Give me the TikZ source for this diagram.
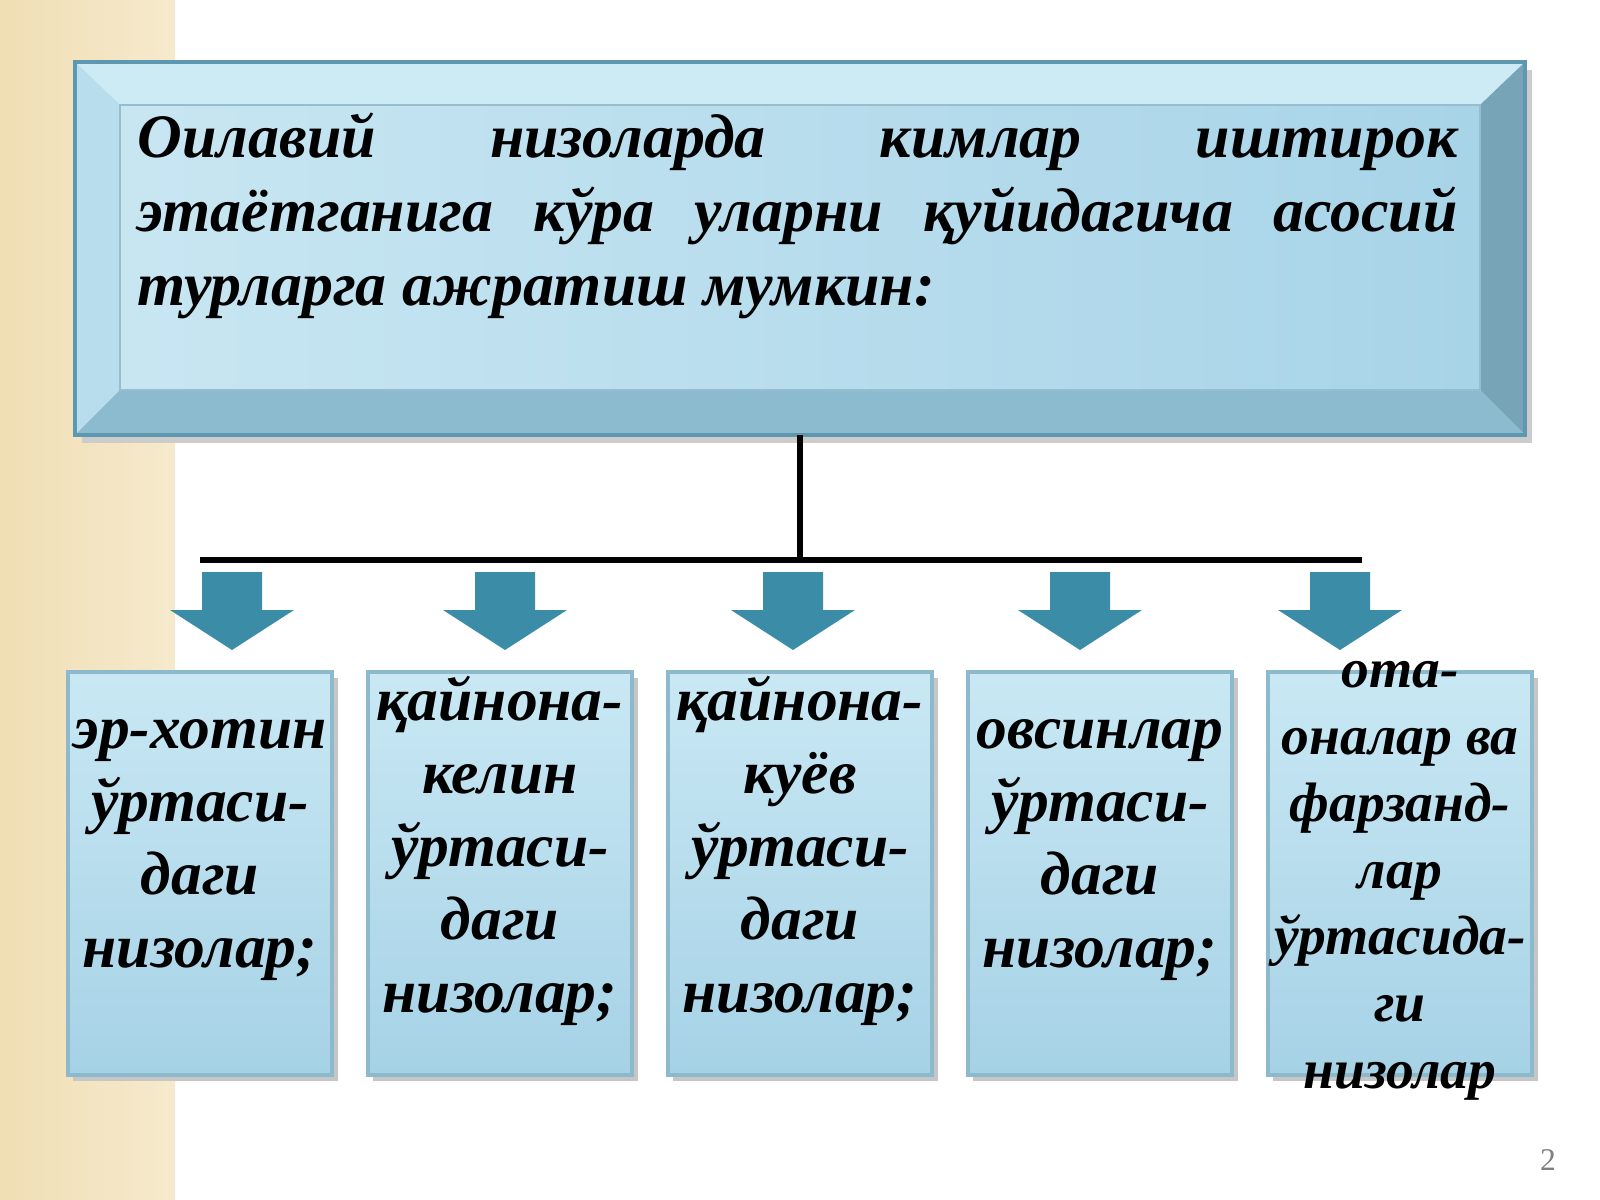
\documentclass[tikz,border=0pt]{standalone}
\usepackage{fontspec}
\setmainfont{Liberation Serif}
\begin{document}
\begin{tikzpicture}[x=0.1mm,y=-0.1mm,
  arr/.style={fill=arrowc,draw=none},
  box/.style={draw=boxb,line width=1.2pt,top color=boxt,bottom color=boxbtm},
  btxt/.style={align=center,font=\fontsize{17.5}{20.8}\selectfont\bfseries\itshape},
  ttl/.style={anchor=base west,inner sep=0pt,font=\fontsize{17.6}{21}\selectfont\bfseries\itshape},
]
\definecolor{arrowc}{HTML}{3B8CA6}
\definecolor{boxb}{HTML}{8DB9CC}
\definecolor{boxt}{HTML}{C9E8F4}
\definecolor{boxbtm}{HTML}{A6D2E6}
\definecolor{beigeL}{RGB}{240,222,180}
\definecolor{beigeR}{RGB}{246,234,205}
\definecolor{innL}{RGB}{200,230,242}
\definecolor{innR}{RGB}{168,212,232}
\definecolor{bvT}{RGB}{205,235,245}
\definecolor{bvL}{RGB}{184,222,238}
\definecolor{bvR}{RGB}{120,164,184}
\definecolor{bvB}{RGB}{140,186,206}
\definecolor{bvO}{RGB}{94,151,176}
\definecolor{bvI}{RGB}{150,190,208}
\useasboundingbox (0,0) rectangle (1600,1200);
\fill[white] (0,0) rectangle (1600,1200);
\fill[left color=beigeL,right color=beigeR] (0,0) rectangle (175,1200);
% top bevel box
\fill[gray!40] (82,70) rectangle (1532,443);
\coordinate (o1) at (75,62); \coordinate (o2) at (1525,62);
\coordinate (o3) at (1525,435); \coordinate (o4) at (75,435);
\coordinate (i1) at (120,105); \coordinate (i2) at (1480,105);
\coordinate (i3) at (1480,390); \coordinate (i4) at (120,390);
\fill[left color=innL,right color=innR] (i1) rectangle (i3);
\fill[bvT] (o1)--(o2)--(i2)--(i1)--cycle;
\fill[bvL] (o1)--(i1)--(i4)--(o4)--cycle;
\fill[bvR] (o2)--(o3)--(i3)--(i2)--cycle;
\fill[bvB] (o4)--(i4)--(i3)--(o3)--cycle;
\draw[bvO,line width=1pt] (o1) rectangle (o3);
\draw[bvI,line width=0.6pt] (i1) rectangle (i3);
\node[ttl] (title1) at (137,158) {\hbox to 132mm{Оилавий\hfill низоларда\hfill кимлар\hfill иштирок}};
\node[ttl] (title2) at (137,232) {\hbox to 132mm{этаётганига\hfill кўра\hfill уларни\hfill қуйидагича\hfill асосий}};
\node[ttl] (title3) at (137,306) {турларга ажратиш мумкин:};
% connectors
\coordinate (vt) at (800,435); \coordinate (vb) at (800,560);
\coordinate (hl) at (200,560); \coordinate (hr) at (1362,560);
\draw[line width=1.5pt] (vt)--(vb);
\draw[line width=1.6pt] (hl)--(hr);
% arrows
\foreach \x in {232,505,793,1080,1340}{
  \fill[arr] (\x-30,572)--(\x+30,572)--(\x+30,610)--(\x+62,610)--(\x,650)--(\x-62,610)--(\x-30,610)--cycle;
}
% boxes
\foreach \x/\n in {68/b1,368/b2,668/b3,968/b4,1268/b5}{
  \fill[gray!45] (\x+5,678) rectangle (\x+270,1081);
  \draw[box] (\x,672) rectangle (\x+264,1075) coordinate (\n);
}
\node[btxt] (t1) at (200,850) {эр-хотин\\ўртаси-\\даги\\низолар;};
\node[btxt] (t2) at (500,851) {қайнона-\\келин\\ўртаси-\\даги\\низолар;};
\node[btxt] (t3) at (800,851) {қайнона-\\куёв\\ўртаси-\\даги\\низолар;};
\node[btxt] (t4) at (1100,850) {овсинлар\\ўртаси-\\даги\\низолар;};
\node[btxt,font=\fontsize{15.8}{19}\selectfont\bfseries\itshape] (t5) at (1400,881) {ота-\\оналар ва\\фарзанд-\\лар\\ўртасида-\\ги\\низолар};
\node[text=gray,font=\fontsize{9}{10}\selectfont] (pn) at (1548,1160) {2};
\end{tikzpicture}
\end{document}
